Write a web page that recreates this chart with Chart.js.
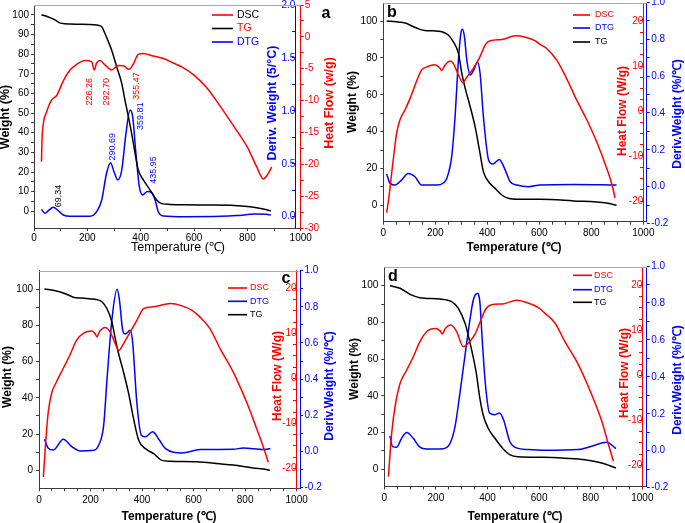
<!DOCTYPE html>
<html>
<head>
<meta charset="utf-8">
<title>TG / DTG / DSC</title>
<script src="https://cdn.jsdelivr.net/npm/chart.js@4.4.1/dist/chart.umd.min.js"></script>
<style>
body { margin: 0; background: #fff; }
#wrap { position: relative; width: 685px; height: 523px; overflow: hidden; }
canvas { position: absolute; }
</style>
</head>
<body>
<div id="wrap">
  <canvas id="pa" width="340" height="255" style="left:0;top:0"></canvas>
  <canvas id="pb" width="345" height="255" style="left:340px;top:0"></canvas>
  <canvas id="pc" width="340" height="268" style="left:0;top:255px"></canvas>
  <canvas id="pd" width="345" height="268" style="left:340px;top:255px"></canvas>
</div>
<script>
// ---------- data ----------
// panel a
var aTgT  = [28, 45, 60, 80, 97, 115, 135, 170, 205, 235, 245, 254, 266, 279, 291, 310, 329, 341, 354, 366, 379, 391, 410, 435, 460, 479, 510, 566, 650, 750, 810, 850, 888];
var aTgW  = [100, 99.4, 98.6, 97.3, 95.9, 95.4, 95.3, 95.2, 95.1, 94.8, 94.5, 93.9, 90.5, 86.3, 82.1, 73.6, 65.1, 56.6, 48.1, 39.7, 29.5, 21.0, 16.0, 10.9, 5.8, 3.9, 3.5, 3.3, 3.2, 3.0, 2.3, 1.4, 0.2];
var aDscT = [28, 30, 35, 47, 66, 85, 110, 135, 160, 191, 216, 226, 235, 247, 266, 291, 316, 335, 357, 372, 391, 410, 447, 485, 522, 554, 600, 650, 700, 750, 800, 835, 860, 879, 891];
var aDscH = [-19.6, -16.2, -13.6, -11.8, -9.9, -9.2, -6.9, -5.2, -4.3, -3.7, -3.9, -5.2, -4.1, -3.7, -4.4, -5.2, -4.5, -4.55, -5.1, -4.3, -2.75, -2.6, -3.0, -3.4, -4.1, -4.7, -6.0, -8.1, -11.0, -14.1, -17.3, -20.4, -22.3, -21.4, -20.4];
var aDtgT = [28, 41, 54, 72, 91, 110, 135, 210, 235, 254, 272, 287, 300, 314, 329, 345, 360, 370, 381, 395, 407, 425, 441, 454, 466, 485, 566, 700, 760, 830, 870, 888];
var aDtgD = [0.07, 0.032, 0.057, 0.088, 0.057, 0.016, 0.003, 0.004, 0.047, 0.157, 0.41, 0.51, 0.425, 0.347, 0.44, 0.79, 1.008, 0.945, 0.63, 0.284, 0.205, 0.237, 0.227, 0.157, 0.047, 0.007, 0.0, 0.003, 0.01, 0.025, 0.022, 0.015];
var aPeakText = ['226.26', '292.70', '355.47', '290.69', '359.81', '435.95', '69.34'];

// panel b
var bTgT  = [13, 64, 90, 116, 141, 160, 192, 225, 250, 269, 289, 302, 315, 334, 353, 372, 385, 405, 430, 456, 481, 520, 603, 731, 859, 897];
var bTgW  = [100, 99.4, 98.7, 96.9, 95.5, 94.9, 94.7, 94.2, 92.4, 88.8, 82.5, 71.6, 63.5, 53.6, 42.7, 28.2, 18.3, 12.8, 9.2, 5.6, 3.8, 3.3, 3.3, 2.4, 1.2, 0];
var bDscT = [13, 22, 32, 42, 51, 64, 83, 103, 122, 147, 167, 199, 218, 225, 235, 257, 269, 289, 306, 321, 347, 372, 392, 411, 456, 508, 546, 585, 603, 628, 667, 705, 744, 782, 821, 859, 880, 891];
var bDscH = [-22.6, -19.0, -13.9, -9.0, -5.0, -2.0, 0.2, 2.8, 5.7, 9.1, 9.8, 10.3, 9.5, 9.0, 10.0, 11.1, 10.6, 8.0, 6.3, 7.5, 9.5, 12.1, 14.7, 15.6, 15.9, 16.7, 16.4, 15.6, 14.8, 13.9, 11.3, 7.2, 2.4, -1.9, -6.9, -12.7, -16.5, -19.3];
var bDtgT = [13, 26, 45, 70, 96, 122, 147, 205, 231, 244, 263, 276, 289, 298, 304, 312, 321, 334, 347, 362, 372, 385, 405, 421, 446, 469, 488, 514, 559, 603, 731, 897];
var bDtgD = [0.069, 0.018, 0.009, 0.036, 0.072, 0.054, 0.009, 0.009, 0.02, 0.045, 0.163, 0.38, 0.69, 0.83, 0.854, 0.815, 0.69, 0.607, 0.63, 0.677, 0.617, 0.38, 0.145, 0.123, 0.148, 0.09, 0.027, 0.009, 0.0, 0.009, 0.012, 0.009];

// panel c
var cTgT  = [21, 68, 107, 133, 167, 218, 244, 264, 283, 296, 309, 328, 348, 367, 387, 413, 445, 477, 510, 613, 700, 754, 830, 883, 896];
var cTgW  = [100, 98.9, 97.1, 95.5, 95.0, 94.3, 93.0, 89.1, 81.8, 72.6, 64.3, 54.2, 42.3, 28.5, 16.6, 12.0, 9.2, 5.5, 5.0, 4.7, 3.6, 2.9, 1.3, 0.5, 0];
var cDscT = [17, 26, 36, 49, 68, 94, 120, 146, 172, 205, 218, 225, 234, 257, 276, 296, 309, 328, 354, 380, 406, 445, 510, 555, 594, 625, 664, 703, 754, 806, 845, 871, 890];
var cDscH = [-21.9, -14.1, -7.4, -3.3, -0.75, 2.2, 5.2, 8.5, 10.0, 10.5, 9.9, 9.2, 10.3, 11.3, 10.3, 7.7, 6.2, 7.7, 10.3, 12.9, 15.5, 15.9, 16.6, 16.1, 15.1, 13.6, 11.0, 6.6, 1.4, -5.3, -11.2, -15.3, -18.6];
var cDtgT = [21, 36, 56, 94, 127, 159, 212, 231, 251, 264, 283, 303, 312, 325, 335, 354, 363, 380, 397, 413, 441, 467, 490, 555, 625, 754, 793, 871, 898];
var cDtgD = [0.067, 0.018, 0.008, 0.067, 0.027, 0.003, 0.006, 0.033, 0.144, 0.4, 0.73, 0.897, 0.84, 0.67, 0.65, 0.67, 0.61, 0.265, 0.09, 0.081, 0.109, 0.063, 0.017, -0.008, 0.01, 0.012, 0.019, 0.01, 0.016];

// panel d
var dTgT  = [22, 61, 100, 138, 216, 261, 287, 313, 328, 344, 357, 370, 383, 402, 428, 460, 486, 518, 615, 700, 778, 843, 898];
var dTgW  = [100, 98.6, 95.3, 93.5, 92.8, 91.3, 87.7, 79.5, 71.4, 61.5, 52, 39, 29.7, 22.5, 17, 11.2, 8.0, 6.8, 6.5, 6.0, 5.2, 3.4, 0.7];
var dDscT = [16, 28.5, 41.5, 61, 87, 112, 138, 164, 197, 216, 225, 235, 257, 280, 306, 332, 350, 371, 391.5, 415, 460, 512, 557, 596, 623, 662, 700, 752, 804, 843, 869, 888];
var dDscH = [-22.5, -12.9, -7.0, -1.8, 1.2, 4.1, 7.5, 9.7, 10.4, 9.9, 9.2, 10.3, 11.2, 9.8, 6.4, 7.6, 9.0, 11.8, 14.6, 15.7, 15.9, 16.7, 16.1, 15.1, 13.8, 11.6, 7.5, 2.4, -4.3, -10.2, -15.4, -19.1];
var dDtgT = [22, 32, 48, 67, 87, 112, 138, 164, 229, 255, 274, 293, 319, 345, 360, 370, 380, 392, 408, 428, 447, 464, 486, 512, 557, 623, 752, 804, 862, 898];
var dDtgD = [0.08, 0.022, 0.019, 0.067, 0.098, 0.067, 0.019, 0.009, 0.011, 0.04, 0.13, 0.31, 0.58, 0.816, 0.852, 0.81, 0.59, 0.357, 0.204, 0.195, 0.204, 0.16, 0.051, 0.015, 0.006, 0.002, 0.006, 0.024, 0.046, 0.011];

// tick labels
var xTicks   = [0, 200, 400, 600, 800, 1000];
var aWTicks  = [0, 10, 20, 30, 40, 50, 60, 70, 80, 90, 100];
var aHTicks  = [-30, -25, -20, -15, -10, -5, 0, 5];
var aDTicks  = [0.0, 0.5, 1.0, 1.5, 2.0];
var wTicks   = [0, 20, 40, 60, 80, 100];
var hTicks   = [-20, -10, 0, 10, 20];
var dTicks   = [-0.2, 0.0, 0.2, 0.4, 0.6, 0.8, 1.0];

var legendA = ['DSC', 'TG', 'DTG'];
var legendB = ['DSC', 'DTG', 'TG'];

// ---------- helpers ----------
Chart.defaults.font.family = '"Liberation Sans", Arial, Helvetica, sans-serif';
Chart.defaults.color = '#000';
var FAM = '"Liberation Sans", Arial, Helvetica, sans-serif';
var RED = '#ff0000', BLUE = '#0000ff', BLACK = '#000000', AXIS = '#3c3c3c';

function pts(xs, ys) { return xs.map(function (x, i) { return {x: x, y: ys[i]}; }); }

function tickList(major, step) {
  var lo = Math.min.apply(null, major), hi = Math.max.apply(null, major);
  var n = Math.round((hi - lo) / step), out = [];
  for (var i = 0; i <= n; i++) out.push(+(lo + i * step).toFixed(4));
  return out;
}
function isIn(v, list) { return list.some(function (m) { return Math.abs(m - v) < 1e-6; }); }
function noPad(s) { s.paddingTop = s.paddingBottom = s.paddingLeft = s.paddingRight = 0; }
function fixSize(n) {
  return function (s) { if (s.isHorizontal()) s.height = n; else s.width = n; noPad(s); };
}

function axis(c) {
  var all = tickList(c.major, c.minor);
  return {
    type: 'linear', position: c.position, min: c.min, max: c.max,
    afterFit: c.size != null ? fixSize(c.size) : noPad,
    afterBuildTicks: function (s) { s.ticks = all.map(function (v) { return {value: v}; }); },
    grid: {drawOnChartArea: false, drawTicks: true, tickLength: c.tl, tickColor: c.color, tickWidth: 1},
    border: {display: true, color: c.color, width: 1},
    ticks: {
      autoSkip: false, maxRotation: 0, padding: c.pad, color: c.textColor || c.color,
      font: {size: 10},
      callback: function (v) { return isIn(v, c.major) ? c.fmt(v) : ''; }
    }
  };
}

function drawText(ctx, t) {
  ctx.save();
  ctx.font = t.font + ' ' + FAM;
  ctx.fillStyle = t.color;
  ctx.textAlign = t.align || 'center';
  ctx.textBaseline = 'middle';
  ctx.translate(t.x, t.y);
  if (t.rot) ctx.rotate(-Math.PI / 2);
  ctx.fillText(t.text, 0, 0);
  ctx.restore();
}

function deco(p) {
  return {
    id: 'deco',
    afterDraw: function (chart) {
      var ctx = chart.ctx, a = chart.chartArea;
      ctx.save();
      // thin frame line along the top
      ctx.strokeStyle = '#a8a8a8'; ctx.lineWidth = 1;
      ctx.beginPath(); ctx.moveTo(a.left, Math.round(a.top) + 0.5); ctx.lineTo(a.right, Math.round(a.top) + 0.5); ctx.stroke();
      // axis titles
      p.titles.forEach(function (t) { drawText(ctx, t); });
      // legend inside the plot
      var L = p.legend;
      L.order.forEach(function (name, i) {
        var ds = chart.data.datasets.find(function (d) { return d.label === name; });
        var y = L.ys[i];
        ctx.strokeStyle = ds.borderColor; ctx.lineWidth = 1.6;
        ctx.beginPath(); ctx.moveTo(L.x0, y); ctx.lineTo(L.x1, y); ctx.stroke();
        drawText(ctx, {text: name, x: L.tx, y: y, font: L.font, color: L.colors[name], align: 'left'});
      });
      // panel letter
      drawText(ctx, {text: p.letter[0], x: p.letter[1], y: p.letter[2], font: 'bold 16px', color: BLACK});
      // peak labels placed through the scales
      (p.notes || []).forEach(function (n) {
        drawText(ctx, {
          text: n.text, rot: true, font: '9px', color: n.color,
          x: chart.scales.x.getPixelForValue(n.t),
          y: chart.scales[n.axis].getPixelForValue(n.v)
        });
      });
      ctx.restore();
    }
  };
}

function build(p) {
  var A = p.area;
  var scales = {
    x: axis({position: 'bottom', min: 0, max: p.xMax, major: xTicks, minor: p.xMinor, size: p.h - A.b,
             tl: 3, pad: p.xPad, color: AXIS, textColor: BLACK, fmt: function (v) { return String(v); }}),
    yW: axis({position: 'left', min: p.W.min, max: p.W.max, major: p.W.major, minor: p.W.minor, size: A.l,
              tl: 3, pad: p.W.pad, color: AXIS, textColor: BLACK, fmt: function (v) { return String(v); }}),
    yH: axis({position: p.H.position, min: p.H.min, max: p.H.max, major: p.H.major, minor: p.H.minor, size: p.H.size,
              tl: 3, pad: p.H.pad, color: RED, fmt: function (v) { return String(v); }}),
    yD: axis({position: p.D.position, min: p.D.min, max: p.D.max, major: p.D.major, minor: p.D.minor, size: p.D.size,
              tl: 3, pad: p.D.pad, color: BLUE, fmt: function (v) { return v.toFixed(1); }})
  };
  var line = {borderWidth: 1.5, pointRadius: 0, fill: false, cubicInterpolationMode: 'monotone'};
  new Chart(document.getElementById(p.id), {
    type: 'line',
    data: {
      datasets: [
        Object.assign({label: 'DSC', data: pts(p.dsc[0], p.dsc[1]), yAxisID: 'yH', borderColor: RED}, line),
        Object.assign({label: 'TG', data: pts(p.tg[0], p.tg[1]), yAxisID: 'yW', borderColor: BLACK}, line),
        Object.assign({label: 'DTG', data: pts(p.dtg[0], p.dtg[1]), yAxisID: 'yD', borderColor: BLUE}, line)
      ]
    },
    options: {
      responsive: false, animation: false, devicePixelRatio: 1, events: [],
      layout: {padding: {top: A.t, left: 0, right: 0, bottom: 0}},
      plugins: {legend: {display: false}, tooltip: {enabled: false}},
      scales: scales
    },
    plugins: [deco(p)]
  });
}

// ---------- panels ----------
build({
  id: 'pa', w: 340, h: 255, area: {l: 34, r: 300.7, t: 5, b: 228}, xMax: 1000, xMinor: 100, xPad: 1.5,
  tg: [aTgT, aTgW], dsc: [aDscT, aDscH], dtg: [aDtgT, aDtgD],
  W: {min: -8.5, max: 105, major: aWTicks, minor: 5, pad: 2},
  H: {position: 'right', size: 340 - 300.7, min: -30, max: 5, major: aHTicks, minor: 2.5, pad: 1},
  D: {position: {x: 980}, min: -0.107, max: 2.0, major: aDTicks, minor: 0.25, pad: 1},
  titles: [
    {text: 'Weight (%)', x: 6, y: 117, rot: true, font: 'bold 12.5px', color: BLACK},
    {text: 'Deriv. Weight (5/°C)', x: 273, y: 103, rot: true, font: 'bold 12.5px', color: BLUE},
    {text: 'Heat Flow (w/g)', x: 330, y: 103, rot: true, font: 'bold 12.5px', color: RED},
    {text: 'Temperature (℃)', x: 178, y: 248, font: '12.5px', color: BLACK}
  ],
  legend: {order: legendA, x0: 212, x1: 233, tx: 237, ys: [15, 28.5, 42], font: '10.5px',
           colors: {DSC: BLACK, TG: RED, DTG: BLUE}},
  letter: ['a', 326, 14],
  notes: [
    {text: aPeakText[0], t: 207, axis: 'yH', v: -8.6, color: RED},
    {text: aPeakText[1], t: 273, axis: 'yH', v: -8.6, color: RED},
    {text: aPeakText[2], t: 385, axis: 'yH', v: -7.7, color: RED},
    {text: aPeakText[3], t: 295, axis: 'yD', v: 0.66, color: BLUE},
    {text: aPeakText[4], t: 400, axis: 'yD', v: 0.95, color: BLUE},
    {text: aPeakText[5], t: 447, axis: 'yD', v: 0.44, color: BLUE},
    {text: aPeakText[6], t: 91, axis: 'yW', v: 7.8, color: BLACK}
  ]
});

build({
  id: 'pb', w: 345, h: 255, area: {l: 43.3, r: 306.7, t: 3, b: 221.7}, xMax: 1013, xMinor: 50, xPad: 2.5,
  tg: [bTgT, bTgW], dsc: [bDscT, bDscH], dtg: [bDtgT, bDtgD],
  W: {min: -8.9, max: 109.8, major: wTicks, minor: 10, pad: 3},
  H: {position: {x: 1000}, min: -24.6, max: 24.0, major: hTicks, minor: 2.5, pad: 2},
  D: {position: 'right', size: 345 - 306.7, min: -0.19, max: 0.997, major: dTicks, minor: 0.1, pad: 1.5},
  titles: [
    {text: 'Weight (%)', x: 13, y: 102, rot: true, font: 'bold 12px', color: BLACK},
    {text: 'Heat Flow (W/g)', x: 283, y: 111, rot: true, font: 'bold 12px', color: RED},
    {text: 'Deriv.Weight (%/℃)', x: 338, y: 114, rot: true, font: 'bold 12px', color: BLUE},
    {text: 'Temperature (℃)', x: 174, y: 248, font: 'bold 12px', color: BLACK}
  ],
  legend: {order: legendB, x0: 233, x1: 250, tx: 255, ys: [15, 28, 42], font: '9px',
           colors: {DSC: RED, DTG: BLUE, TG: BLACK}},
  letter: ['b', 52, 13]
});

build({
  id: 'pc', w: 340, h: 268, area: {l: 39, r: 300, t: 15.7, b: 233.3}, xMax: 1013, xMinor: 50, xPad: 2.5,
  tg: [cTgT, cTgW], dsc: [cDscT, cDscH], dtg: [cDtgT, cDtgD],
  W: {min: -9.9, max: 110.1, major: wTicks, minor: 10, pad: 3},
  H: {position: {x: 1000}, min: -24.4, max: 23.9, major: hTicks, minor: 2.5, pad: 2},
  D: {position: 'right', size: 340 - 300, min: -0.204, max: 1.0, major: dTicks, minor: 0.1, pad: 1.5},
  titles: [
    {text: 'Weight (%)', x: 8, y: 122, rot: true, font: 'bold 12px', color: BLACK},
    {text: 'Heat Flow (W/g)', x: 278, y: 121, rot: true, font: 'bold 12px', color: RED},
    {text: 'Deriv.Weight (%/℃)', x: 330, y: 131, rot: true, font: 'bold 12px', color: BLUE},
    {text: 'Temperature (℃)', x: 169, y: 262, font: 'bold 12px', color: BLACK}
  ],
  legend: {order: legendB, x0: 228, x1: 247, tx: 250, ys: [33, 46.3, 59.7], font: '9px',
           colors: {DSC: RED, DTG: BLUE, TG: BLACK}},
  letter: ['c', 286, 24]
});

build({
  id: 'pd', w: 345, h: 268, area: {l: 44.3, r: 306.7, t: 12, b: 231.5}, xMax: 1017, xMinor: 50, xPad: 2.5,
  tg: [dTgT, dTgW], dsc: [dDscT, dDscH], dtg: [dDtgT, dDtgD],
  W: {min: -9.4, max: 110.2, major: wTicks, minor: 10, pad: 3},
  H: {position: {x: 1000}, min: -24.7, max: 24.1, major: hTicks, minor: 2.5, pad: 2},
  D: {position: 'right', size: 345 - 306.7, min: -0.194, max: 0.995, major: dTicks, minor: 0.1, pad: 1.5},
  titles: [
    {text: 'Weight (%)', x: 15, y: 114, rot: true, font: 'bold 12px', color: BLACK},
    {text: 'Heat Flow (W/g)', x: 285, y: 118, rot: true, font: 'bold 12px', color: RED},
    {text: 'Deriv.Weight (%/℃)', x: 338, y: 125, rot: true, font: 'bold 12px', color: BLUE},
    {text: 'Temperature (℃)', x: 175, y: 262, font: 'bold 12px', color: BLACK}
  ],
  legend: {order: legendB, x0: 233, x1: 252, tx: 254, ys: [20.3, 34.7, 47.3], font: '9px',
           colors: {DSC: RED, DTG: BLUE, TG: BLACK}},
  letter: ['d', 53, 22]
});
</script>
</body>
</html>
